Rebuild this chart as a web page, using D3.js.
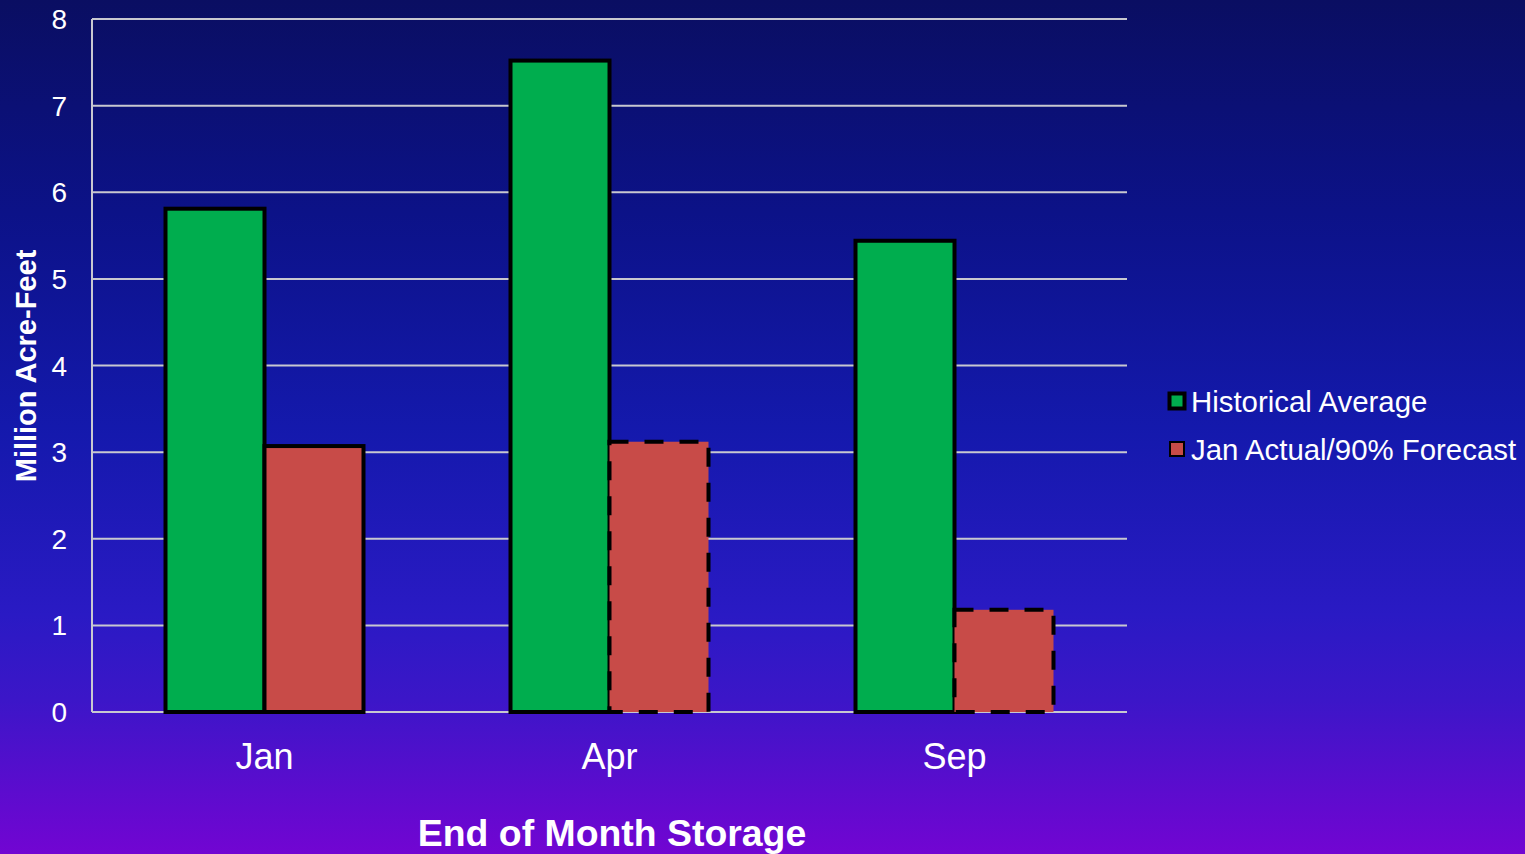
<!DOCTYPE html>
<html><head><meta charset="utf-8">
<script src="https://cdn.jsdelivr.net/npm/d3@7"></script>
<style>html,body{margin:0;padding:0;overflow:hidden}svg{display:block}</style>
</head><body>
<script>
const categories = ["Jan", "Apr", "Sep"];
const seriesNames = ["Historical Average", "Jan Actual/90% Forecast"];
const historical = [5.81, 7.52, 5.44];
const forecast = [3.07, 3.12, 1.18];
const forecastDashed = [false, true, true];
const yTicks = [0, 1, 2, 3, 4, 5, 6, 7, 8];

const W = 1525, H = 854;
const m = {left: 92, right: 398, top: 19, bottom: 142};
const svg = d3.select("body").append("svg").attr("width", W).attr("height", H);
const defs = svg.append("defs");
const grad = defs.append("linearGradient").attr("id", "bg").attr("x1", 0).attr("y1", 0).attr("x2", 0).attr("y2", 1);
[[0, "#0a0e62"], [0.25, "#0c1288"], [0.5, "#1419ac"], [0.72, "#2a1ac4"], [0.82, "#3c16c8"], [1, "#7205d2"]]
  .forEach(([o, c]) => grad.append("stop").attr("offset", o).attr("stop-color", c));
svg.append("rect").attr("width", W).attr("height", H).attr("fill", "url(#bg)");

const x0 = d3.scaleBand().domain(categories).range([m.left, W - m.right]);
const barW = 99;
const y = d3.scaleLinear().domain([0, 8]).range([H - m.bottom, m.top]);

const font = "Liberation Sans, Arial, sans-serif";
// gridlines
svg.append("g").selectAll("line").data(yTicks).join("line")
  .attr("x1", m.left).attr("x2", W - m.right)
  .attr("y1", d => y(d)).attr("y2", d => y(d))
  .attr("stroke", "#c8c8d0").attr("stroke-width", 2);
svg.append("line").attr("x1", m.left).attr("x2", m.left).attr("y1", y(8)).attr("y2", y(0))
  .attr("stroke", "#c8c8d0").attr("stroke-width", 2);

// y tick labels
svg.append("g").selectAll("text").data(yTicks).join("text")
  .attr("x", 67).attr("y", d => y(d)).attr("dy", "0.36em")
  .attr("text-anchor", "end").attr("fill", "#fff")
  .style("font-family", font).style("font-size", "28px").text(d => d);

// bars
const g = svg.append("g");
categories.forEach((c, i) => {
  const cx = x0(c) + x0.bandwidth() / 2;
  g.append("rect").attr("x", cx - barW).attr("y", y(historical[i]))
    .attr("width", barW).attr("height", y(0) - y(historical[i]))
    .attr("fill", "#00ad4e").attr("stroke", "#000").attr("stroke-width", 4);
  g.append("rect").attr("x", cx).attr("y", y(forecast[i]))
    .attr("width", barW).attr("height", y(0) - y(forecast[i]))
    .attr("fill", "#c84b48").attr("stroke", "#000")
    .attr("stroke-width", 4)
    .attr("stroke-dasharray", forecastDashed[i] ? "19,16" : null);
});

// category labels
svg.append("g").selectAll("text").data(categories).join("text")
  .attr("x", d => x0(d) + x0.bandwidth() / 2).attr("y", 756).attr("dy", "0.36em")
  .attr("text-anchor", "middle").attr("fill", "#fff")
  .style("font-family", font).style("font-size", "36px").text(d => d);

// axis titles
svg.append("text").attr("x", 612).attr("y", 833).attr("dy", "0.36em")
  .attr("text-anchor", "middle").attr("fill", "#fff")
  .style("font-family", font).style("font-size", "37.4px").style("font-weight", "bold")
  .text("End of Month Storage");
svg.append("text").attr("transform", "translate(26,366) rotate(-90)").attr("dy", "0.36em")
  .attr("text-anchor", "middle").attr("fill", "#fff")
  .style("font-family", font).style("font-size", "29px").style("font-weight", "bold")
  .text("Million Acre-Feet");

// legend
const legColors = ["#00ad4e", "#c84b48"];
const legY = [401, 449];
seriesNames.forEach((s, i) => {
  g.append("rect").attr("x", i === 0 ? 1169.5 : 1170).attr("y", legY[i] - (i === 0 ? 7.5 : 7))
    .attr("width", i === 0 ? 15 : 14).attr("height", i === 0 ? 15 : 14)
    .attr("fill", legColors[i]).attr("stroke", "#000").attr("stroke-width", i === 0 ? 4 : 2);
  svg.append("text").attr("x", 1191).attr("y", legY[i]).attr("dy", "0.36em")
    .attr("fill", "#fff").style("font-family", font).style("font-size", "29.4px").text(s);
});
</script>
</body></html>
